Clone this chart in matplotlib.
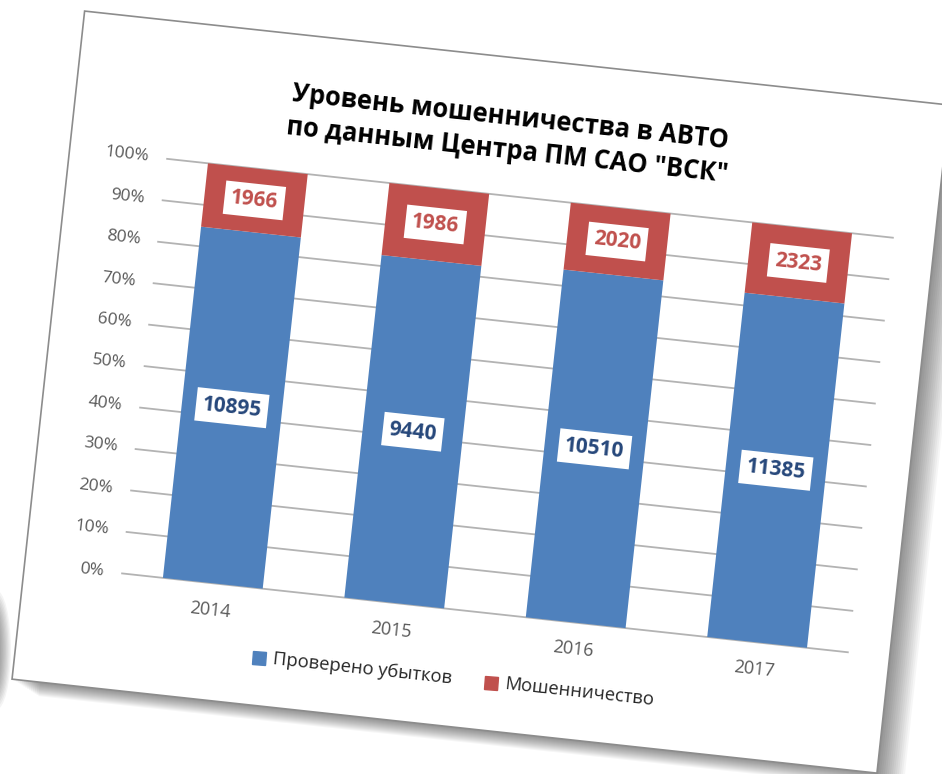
import matplotlib
matplotlib.use('Agg')
import matplotlib.pyplot as plt
import numpy as np
from matplotlib.transforms import Affine2D
from matplotlib.patches import Rectangle, Ellipse
from matplotlib.markers import MarkerStyle

plt.rcParams['font.family'] = ['Open Sans', 'DejaVu Sans']

#%% data
years = ['2014', '2015', '2016', '2017']
checked = np.array([10895, 9440, 10510, 11385])
fraud = np.array([1966, 1986, 2020, 2323])
series_names = ['Проверено убытков', 'Мошенничество']
title_lines = ['Уровень мошенничества в АВТО', 'по данным Центра ПМ САО "ВСК"']
y_ticks = [0, 10, 20, 30, 40, 50, 60, 70, 80, 90, 100]

blue = '#4F81BD'
red = '#C0504D'

#%% figure, with the whole sheet turned a little clockwise
W, H = 942, 774
TILT = 6.2
CX, CY = 480, 390   # pivot in picture pixels (y down)

fig = plt.figure(figsize=(W / 100, H / 100), dpi=100)
tilt = Affine2D().rotate_deg_around(CX, H - CY, -TILT)

bg = fig.add_axes([0, 0, 1, 1])
bg.set_xlim(0, W)
bg.set_ylim(H, 0)
bg.axis('off')
sheet = bg.transData + tilt

# shadow + page
for k in range(1, 15):
    bg.add_patch(Rectangle((46 + 2 * k, 56 + k), 870, 672, fc='black', ec='none',
                           alpha=0.035, transform=sheet, zorder=0))
for k in range(10):
    bg.add_patch(Ellipse((-4, 650), 30 - 2.5 * k, 120 - 6 * k, fc='black', ec='none',
                         alpha=0.045, lw=0, zorder=0))
bg.add_patch(Rectangle((46, 56), 870, 672, fc='white', ec='#8C8C8C', lw=1.2,
                       transform=sheet, zorder=1))

# plot area in untilted page pixels
PL, PR, PT, PB = 144, 874, 194, 611
ax = fig.add_axes([PL / W, 1 - PB / H, (PR - PL) / W, (PB - PT) / H])
ax.set_xlim(-0.5, 3.5)
ax.set_ylim(0, 1)
ax.axis('off')
T = ax.transData + tilt


def at(xp, yp):
    # untilted page pixel -> chart data coords
    return (xp - PL) / (PR - PL) * 4 - 0.5, (PB - yp) / (PB - PT)


rot = dict(rotation=-TILT, rotation_mode='anchor', transform=T, clip_on=False)

#%% bars
x = np.arange(len(years))
total = checked + fraud
pc = checked / total
pf = fraud / total

for t in y_ticks:
    ax.plot([-0.5, 3.5], [t / 100, t / 100], color='#B3B3B3', lw=1.3,
            transform=T, clip_on=False, zorder=1)
    ax.text(at(126, 0)[0], t / 100, f'{t}%', ha='right', va='center',
            fontsize=12.5, color='#595959', **rot)

ax.bar(x, pc, 0.55, color=blue, transform=T, clip_on=False, zorder=2)
ax.bar(x, pf, 0.55, bottom=pc, color=red, transform=T, clip_on=False, zorder=2)

box = dict(boxstyle='square,pad=0.3', fc='white', ec='none')
for i in x:
    ax.text(i, pc[i] / 2, str(checked[i]), ha='center', va='center', fontsize=15,
            weight='bold', color='#26477A', bbox=box, zorder=3, **rot)
    ax.text(i, pc[i] + pf[i] / 2, str(fraud[i]), ha='center', va='center', fontsize=15,
            weight='bold', color=red, bbox=box, zorder=3, **rot)
    ax.text(i, at(0, 638)[1], years[i], ha='center', va='center',
            fontsize=13, color='#595959', **rot)

#%% title
tx = at(481, 0)[0]
ax.text(tx, at(0, 115.5)[1], title_lines[0], ha='center', va='center', fontsize=18.4,
        weight='bold', color='black', **rot)
ax.text(tx, at(0, 149.5)[1], title_lines[1], ha='center', va='center', fontsize=18.4,
        weight='bold', color='black', **rot)

#%% legend
sq = MarkerStyle('s', transform=Affine2D().rotate_deg(-TILT))
for name, col, (mx, tx0) in zip(series_names, [blue, red], [(289, 303), (523, 536)]):
    lx, ly = at(mx, 680)
    ax.plot([lx], [ly], ls='none', marker=sq, ms=9, color=col,
            transform=T, clip_on=False)
    ax.text(at(tx0, 0)[0], ly, name, ha='left', va='center', fontsize=13.2,
            color='#262626', **rot)

fig.savefig('out.png', dpi=100)
